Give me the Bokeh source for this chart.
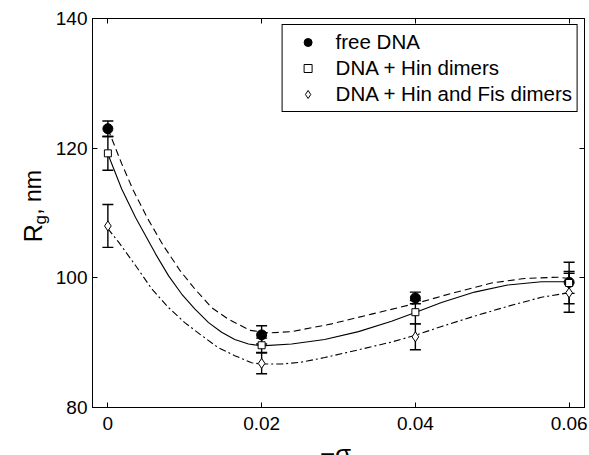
import math
from bokeh.plotting import figure
from bokeh.layouts import column, row
from bokeh.models import (Range1d, FixedTicker, LinearAxis, Whisker, TeeHead,
                          ColumnDataSource)
from bokeh.core.properties import value
from bokeh.embed import file_html
from bokeh.resources import INLINE

# ---------------- data ----------------
sigma = [0.0, 0.02, 0.04, 0.06]

free_dna = [123.0, 91.2, 96.9, 99.3]
free_err = [1.2, 1.4, 0.9, 1.7]

hin = [119.2, 89.6, 94.7, 99.2]
hin_err = [2.6, 1.1, 1.8, 3.2]

hin_fis = [108.0, 86.8, 90.9, 97.7]
hin_fis_err = [3.3, 1.6, 2.0, 3.0]

# smooth guide curves
free_curve_x = [0.0, 0.0005, 0.0018, 0.0033, 0.0051, 0.0072, 0.0094, 0.0113, 0.0135,
                0.0157, 0.0185, 0.0209, 0.0239, 0.0291, 0.0343, 0.0399, 0.0447,
                0.0499, 0.0542, 0.0585, 0.0600]
free_curve_y = [123.0, 121.5, 117.6, 113.5, 109.3, 105.0, 101.1, 98.3, 95.4,
                93.6, 91.9, 91.5, 91.7, 92.9, 94.4, 96.0, 97.6,
                99.2, 99.9, 100.1, 99.9]

hin_curve_x = [0.0, 0.0018, 0.0036, 0.0062, 0.0079, 0.0096, 0.0113, 0.0131, 0.0148,
               0.0165, 0.0183, 0.0200, 0.0239, 0.0282, 0.0326, 0.0369, 0.0399,
               0.0434, 0.0477, 0.0520, 0.0564, 0.0600]
hin_curve_y = [119.1, 113.7, 109.3, 103.7, 100.3, 97.5, 95.2, 93.1, 91.6,
               90.5, 89.8, 89.5, 89.8, 90.5, 91.7, 93.3, 94.6,
               96.2, 97.8, 98.9, 99.4, 99.4]

fis_curve_x = [0.0, 0.0014, 0.0036, 0.0057, 0.0079, 0.0100, 0.0122, 0.0144, 0.0165,
               0.0187, 0.0200, 0.0226, 0.0252, 0.0282, 0.0326, 0.0369, 0.0399,
               0.0434, 0.0477, 0.0520, 0.0564, 0.0600]
fis_curve_y = [107.6, 105.5, 101.9, 98.3, 95.4, 93.1, 91.1, 89.2, 88.0,
               86.9, 86.7, 86.7, 87.0, 87.7, 88.9, 90.1, 91.1,
               92.5, 94.1, 95.6, 97.0, 97.7]

x_ticks = [0.0, 0.02, 0.04, 0.06]
x_tick_labels = ["0", "0.02", "0.04", "0.06"]
y_ticks = [80, 100, 120, 140]

series_labels = ["free DNA", "DNA + Hin dimers", "DNA + Hin and Fis dimers"]
y_title_parts = ["R", "g", ", nm"]
x_title = "\u2212\u03c3"

FONT = "Liberation Sans"

# layout sizes (px)
W, H = 589, 455
YTITLE_W = 52
MAIN_H = 440
XTITLE_H = H - MAIN_H


def blank_fig(width, height):
    f = figure(width=width, height=height,
               x_range=Range1d(0, width), y_range=Range1d(0, height),
               output_backend="svg", toolbar_location=None,
               x_axis_location=None, y_axis_location=None,
               min_border=0, min_border_left=0, min_border_right=0,
               min_border_top=0, min_border_bottom=0)
    f.xgrid.visible = False
    f.ygrid.visible = False
    f.outline_line_color = None
    f.background_fill_color = "white"
    f.border_fill_color = "white"
    return f


# ---------------- main figure ----------------
p = figure(width=W - YTITLE_W, height=MAIN_H,
           x_range=Range1d(-0.002, 0.062), y_range=Range1d(80, 140),
           output_backend="svg", toolbar_location=None,
           min_border_left=91 - YTITLE_W, min_border_right=5,
           min_border_top=18, min_border_bottom=MAIN_H - 407)
p.xgrid.visible = False
p.ygrid.visible = False
p.outline_line_color = "black"
p.outline_line_width = 1
p.background_fill_color = "white"
p.border_fill_color = "white"


def style_axis(ax, ticks, show_labels):
    ax.ticker = FixedTicker(ticks=ticks)
    ax.major_tick_in = 5
    ax.major_tick_out = 0
    ax.minor_tick_in = 0
    ax.minor_tick_out = 0
    ax.axis_line_color = "black"
    ax.major_tick_line_color = "black"
    ax.major_label_text_font = FONT
    ax.major_label_text_color = "black"
    if show_labels:
        ax.major_label_text_font_size = "19px"
    else:
        ax.major_label_text_font_size = "0px"
        ax.major_label_standoff = 0


style_axis(p.xaxis[0], x_ticks, True)
p.xaxis[0].major_label_overrides = {t: s for t, s in zip(x_ticks, x_tick_labels)}
p.xaxis[0].major_label_standoff = 9
style_axis(p.yaxis[0], y_ticks, True)
p.yaxis[0].major_label_standoff = 5

top_ax = LinearAxis()
style_axis(top_ax, x_ticks, False)
p.add_layout(top_ax, "above")
right_ax = LinearAxis()
style_axis(right_ax, y_ticks, False)
p.add_layout(right_ax, "right")

# curves
p.line(free_curve_x, free_curve_y, line_color="black", line_width=1.1, line_dash="7 4")
p.line(hin_curve_x, hin_curve_y, line_color="black", line_width=1.1)
p.line(fis_curve_x, fis_curve_y, line_color="black", line_width=1.1, line_dash="7 3 2 3")

# error bars
for vals, errs in [(free_dna, free_err), (hin, hin_err), (hin_fis, hin_fis_err)]:
    src = ColumnDataSource(dict(
        x=sigma,
        upper=[v + e for v, e in zip(vals, errs)],
        lower=[v - e for v, e in zip(vals, errs)]))
    p.add_layout(Whisker(base="x", upper="upper", lower="lower", source=src,
                         dimension="height", line_color="black", line_width=1.4,
                         upper_head=TeeHead(size=11, line_color="black", line_width=1.4),
                         lower_head=TeeHead(size=11, line_color="black", line_width=1.4)))

# markers
p.scatter(sigma, free_dna, marker="circle", size=10, fill_color="black",
          line_color="black", legend_label=series_labels[0])
p.scatter(sigma, hin, marker="square", size=7, fill_color="white",
          line_color="black", line_width=1, legend_label=series_labels[1])
p.scatter(sigma, hin_fis, marker="diamond", size=10, fill_color="white",
          line_color="black", line_width=1, legend_label=series_labels[2])

lg = p.legend[0]
lg.location = "top_right"
lg.margin = 6
lg.padding = 5
lg.spacing = 2
lg.glyph_width = 40
lg.glyph_height = 20
lg.label_height = 20
lg.label_standoff = 8
lg.label_text_font = FONT
lg.label_text_font_size = "20.5px"
lg.label_text_color = "black"
lg.border_line_color = "black"
lg.border_line_width = 1
lg.border_line_alpha = 1
lg.background_fill_color = "white"
lg.background_fill_alpha = 1

# ---------------- y title strip (vertical text, subscript g) ----------------
yt = blank_fig(YTITLE_W, MAIN_H)
ytitle_specs = [  # (px x of baseline, px y from top where text starts, size)
    (32, 253, "25px"),
    (40, 233, "17px"),
    (32, 222, "23px"),
]
for (bx, by, fs), txt in zip(ytitle_specs, y_title_parts):
    yt.text(x=[bx], y=[MAIN_H - by], text=[txt], angle=math.pi / 2,
            text_align="left", text_baseline="alphabetic",
            text_font=value(FONT), text_font_size=value(fs), text_color="black")

# ---------------- x title strip ----------------
xt = blank_fig(W, XTITLE_H)
xt.text(x=[335], y=[2], text=[x_title], text_align="center",
        text_baseline="alphabetic", text_font=value(FONT),
        text_font_size=value("26px"), text_color="black")

layout = column(row(yt, p), xt)
open("out.html", "w").write(file_html(layout, INLINE))
